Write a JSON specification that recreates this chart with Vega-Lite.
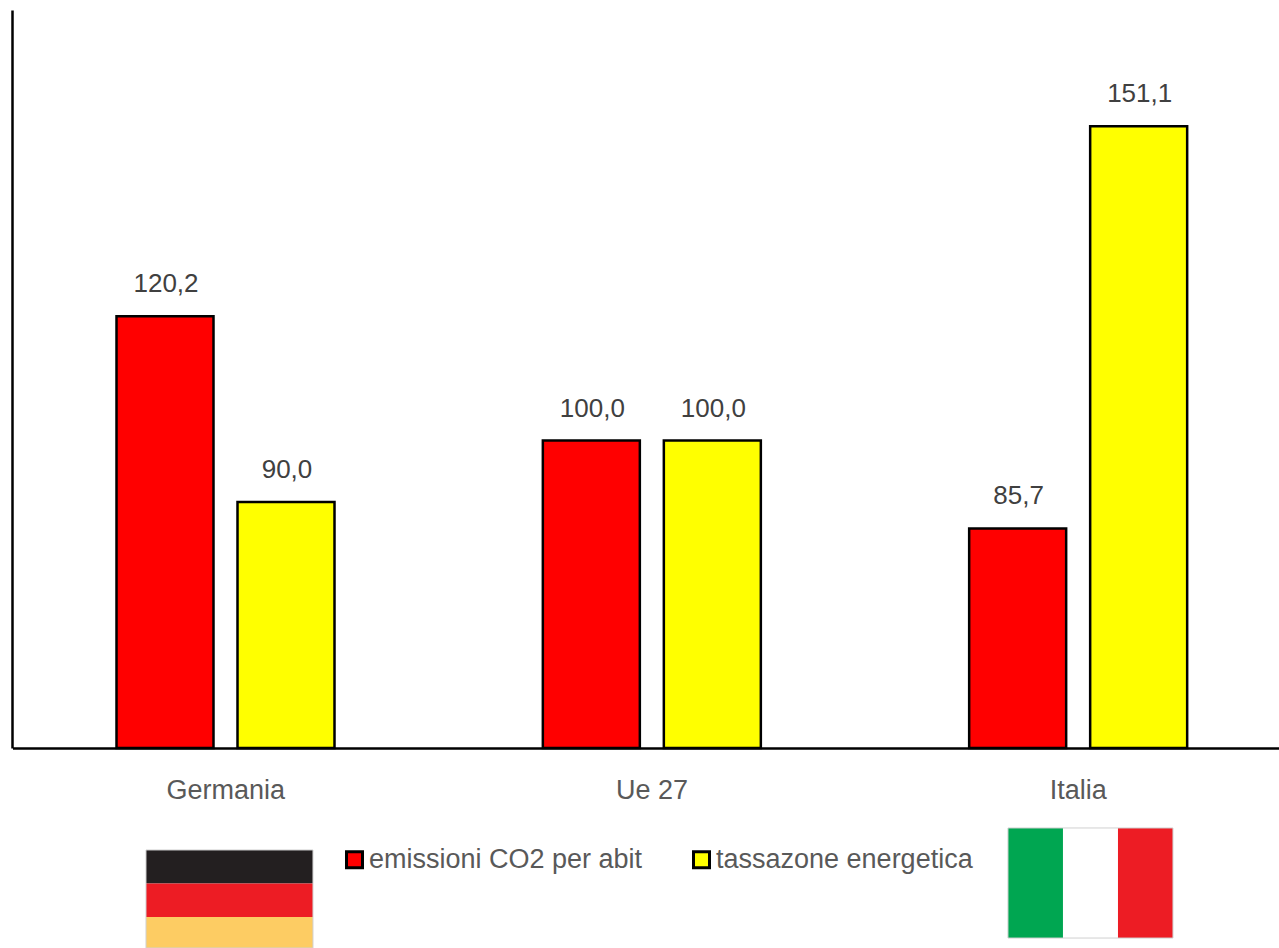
{"$schema":"https://vega.github.io/schema/vega-lite/v6.json","width":1267,"height":738,"padding":{"left":12,"top":10,"right":0,"bottom":200},"autosize":{"type":"none"},"background":"white","config":{"view":{"stroke":null},"font":"Liberation Sans"},"layer":[{"data":{"values":[{"paese":"Germania","serie":"emissioni CO2 per abit","valore":120.2,"etichetta":"120,2"},{"paese":"Germania","serie":"tassazone energetica","valore":90.0,"etichetta":"90,0"},{"paese":"Ue 27","serie":"emissioni CO2 per abit","valore":100.0,"etichetta":"100,0"},{"paese":"Ue 27","serie":"tassazone energetica","valore":100.0,"etichetta":"100,0"},{"paese":"Italia","serie":"emissioni CO2 per abit","valore":85.7,"etichetta":"85,7"},{"paese":"Italia","serie":"tassazone energetica","valore":151.1,"etichetta":"151,1"}]},"encoding":{"x":{"field":"paese","type":"nominal","sort":["Germania","Ue 27","Italia"],"scale":{"range":[0.5,1279.5],"paddingInner":0,"paddingOuter":0},"axis":{"title":null,"labelAngle":0,"ticks":false,"domainColor":"#000000","domainWidth":2.5,"labelFont":"Liberation Sans","labelFontSize":27,"labelColor":"#595959","labelPadding":50,"labelBaseline":"alphabetic"}},"xOffset":{"field":"serie","type":"nominal","scale":{"range":[92,334],"paddingInner":0,"paddingOuter":0}},"y":{"field":"valore","type":"quantitative","scale":{"domain":[50,170],"nice":false,"zero":false},"axis":{"title":null,"labels":false,"ticks":false,"grid":false,"domainColor":"#000000","domainWidth":2.5}}},"layer":[{"mark":{"type":"bar","width":97,"stroke":"#000000","strokeWidth":2.5},"encoding":{"y2":{"datum":50},"fill":{"field":"serie","type":"nominal","scale":{"domain":["emissioni CO2 per abit","tassazone energetica"],"range":["#ff0000","#ffff00"]},"legend":{"title":null,"orient":"none","legendX":329,"legendY":836,"direction":"horizontal","columns":2,"columnPadding":44,"symbolType":"square","symbolSize":256,"symbolStrokeColor":"#000000","symbolStrokeWidth":3,"labelFont":"Liberation Sans","labelFontSize":27,"labelColor":"#595959","labelOffset":1,"labelLimit":400}}}},{"mark":{"type":"text","baseline":"alphabetic","dy":-24,"dx":1,"font":"Liberation Sans","fontSize":26,"fill":"#404040"},"encoding":{"text":{"field":"etichetta","type":"nominal"}}}]},{"encoding":{"x":{"field":"x0","type":"quantitative","scale":{"domain":[0,100],"range":[-12,1267],"nice":false,"zero":false},"axis":null},"x2":{"field":"x1"},"y":{"field":"y0","type":"quantitative","scale":{"domain":[0,100],"range":[-10,938],"nice":false,"zero":false},"axis":null},"y2":{"field":"y1"}},"layer":[{"data":{"values":[{"bandiera":"Germania","striscia":"nero","x0":11.415,"x1":24.47,"y0":89.66,"y1":93.2},{"bandiera":"Germania","striscia":"rosso","x0":11.415,"x1":24.47,"y0":93.2,"y1":96.73},{"bandiera":"Germania","striscia":"oro","x0":11.415,"x1":24.47,"y0":96.73,"y1":100},{"bandiera":"Italia","striscia":"verde","x0":78.81,"x1":83.11,"y0":87.34,"y1":98.95},{"bandiera":"Italia","striscia":"bianco","x0":83.11,"x1":87.41,"y0":87.34,"y1":98.95},{"bandiera":"Italia","striscia":"rosso","x0":87.41,"x1":91.71,"y0":87.34,"y1":98.95}]},"mark":{"type":"rect"},"encoding":{"fill":{"field":"striscia","type":"nominal","scale":{"domain":["nero","rosso","oro","verde","bianco"],"range":["#231f20","#ed1c24","#fdcc63","#00a651","#ffffff"]},"legend":null}}},{"data":{"values":[{"bandiera":"Germania","x0":11.415,"x1":24.47,"y0":89.66,"y1":100},{"bandiera":"Italia","x0":78.81,"x1":91.71,"y0":87.34,"y1":98.95}]},"mark":{"type":"rect","fillOpacity":0,"stroke":"#d0d0d0","strokeWidth":1}}]}],"resolve":{"scale":{"x":"independent","y":"independent","fill":"independent"},"axis":{"x":"independent","y":"independent"}}}
